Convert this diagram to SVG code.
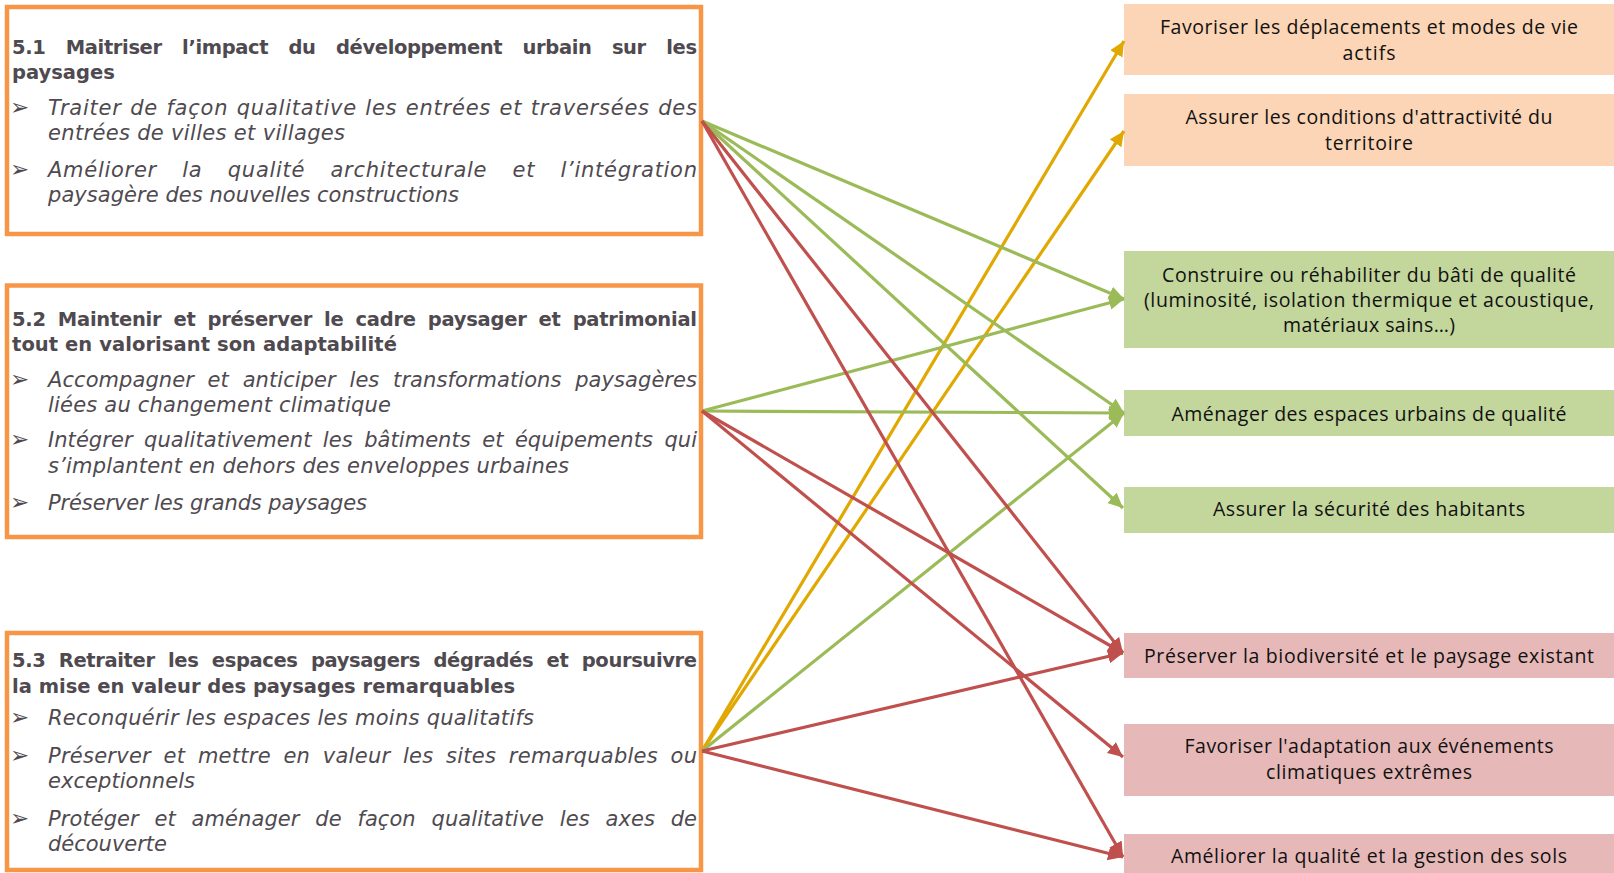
<svg xmlns="http://www.w3.org/2000/svg" width="1614" height="873" viewBox="0 0 1614 873">
<style>
.box{fill:#ffffff;stroke:#F79646;stroke-width:4.5}
.t{font-family:"DejaVu Sans","Liberation Sans",sans-serif;fill:#4F4A50}
.h{font-size:19.5px;font-weight:bold}
.b{font-size:21px;font-style:italic}
.bul{font-family:"DejaVu Sans",sans-serif;font-size:23px;fill:#4F4A50}
.r{font-family:"Open Sans","Liberation Sans",sans-serif;font-size:19.5px;fill:#111111;text-anchor:middle}
.peach{fill:#FBD5B5}
.green{fill:#C3D69B}
.pink{fill:#E6B9B8}
.c{fill:none;stroke-width:3.2}
.cy{stroke:#E0A800}
.cg{stroke:#9BBB59}
.cr{stroke:#C0504D}
</style>
<defs>
<marker id="ay" markerUnits="userSpaceOnUse" markerWidth="16" markerHeight="16" refX="15" refY="7" orient="auto"><path d="M0,0 L15,7 L0,14 z" fill="#E0A800"/></marker>
<marker id="ag" markerUnits="userSpaceOnUse" markerWidth="16" markerHeight="16" refX="15" refY="7" orient="auto"><path d="M0,0 L15,7 L0,14 z" fill="#9BBB59"/></marker>
<marker id="ar" markerUnits="userSpaceOnUse" markerWidth="16" markerHeight="16" refX="15" refY="7" orient="auto"><path d="M0,0 L15,7 L0,14 z" fill="#C0504D"/></marker>
</defs>
<rect width="1614" height="873" fill="#ffffff"/>

<g id="obj51">
<rect class="box" x="7" y="7" width="694" height="227"/>
<text class="t h" x="12" y="54" word-spacing="14" textLength="685" lengthAdjust="spacing">5.1 Maitriser l’impact du développement urbain sur les</text>
<text class="t h" x="12" y="79">paysages</text>
<text class="bul" x="10" y="115">➢</text>
<text class="t b" x="48" y="115" word-spacing="1" textLength="649" lengthAdjust="spacing">Traiter de façon qualitative les entrées et traversées des</text>
<text class="t b" x="48" y="140" textLength="297" lengthAdjust="spacing">entrées de villes et villages</text>
<text class="bul" x="10" y="177">➢</text>
<text class="t b" x="48" y="177" word-spacing="18" textLength="649" lengthAdjust="spacing">Améliorer la qualité architecturale et l’intégration</text>
<text class="t b" x="48" y="202" textLength="411" lengthAdjust="spacing">paysagère des nouvelles constructions</text>
</g>

<g id="obj52">
<rect class="box" x="7" y="285.5" width="694" height="251.5"/>
<text class="t h" x="12" y="326" word-spacing="5.5" textLength="685" lengthAdjust="spacing">5.2 Maintenir et préserver le cadre paysager et patrimonial</text>
<text class="t h" x="12" y="351" textLength="385" lengthAdjust="spacing">tout en valorisant son adaptabilité</text>
<text class="bul" x="10" y="387">➢</text>
<text class="t b" x="48" y="387" word-spacing="7" textLength="649" lengthAdjust="spacing">Accompagner et anticiper les transformations paysagères</text>
<text class="t b" x="48" y="412" textLength="343" lengthAdjust="spacing">liées au changement climatique</text>
<text class="bul" x="10" y="447">➢</text>
<text class="t b" x="48" y="447" word-spacing="4.7" textLength="649" lengthAdjust="spacing">Intégrer qualitativement les bâtiments et équipements qui</text>
<text class="t b" x="48" y="473" textLength="521" lengthAdjust="spacing">s’implantent en dehors des enveloppes urbaines</text>
<text class="bul" x="10" y="510">➢</text>
<text class="t b" x="48" y="510" textLength="319" lengthAdjust="spacing">Préserver les grands paysages</text>
</g>

<g id="obj53">
<rect class="box" x="7" y="633" width="694" height="237"/>
<text class="t h" x="12" y="667" word-spacing="7" textLength="685" lengthAdjust="spacing">5.3 Retraiter les espaces paysagers dégradés et poursuivre</text>
<text class="t h" x="12" y="693" textLength="503" lengthAdjust="spacing">la mise en valeur des paysages remarquables</text>
<text class="bul" x="10" y="725">➢</text>
<text class="t b" x="48" y="725" textLength="486" lengthAdjust="spacing">Reconquérir les espaces les moins qualitatifs</text>
<text class="bul" x="10" y="763">➢</text>
<text class="t b" x="48" y="763" word-spacing="5.7" textLength="649" lengthAdjust="spacing">Préserver et mettre en valeur les sites remarquables ou</text>
<text class="t b" x="48" y="788" textLength="147" lengthAdjust="spacing">exceptionnels</text>
<text class="bul" x="10" y="826">➢</text>
<text class="t b" x="48" y="826" word-spacing="9" textLength="649" lengthAdjust="spacing">Protéger et aménager de façon qualitative les axes de</text>
<text class="t b" x="48" y="851" textLength="119" lengthAdjust="spacing">découverte</text>
</g>

<g id="deplacements">
<rect class="peach" x="1124" y="4" width="490" height="71"/>
<text class="r" x="1369" y="34" textLength="418" lengthAdjust="spacing">Favoriser les déplacements et modes de vie</text>
<text class="r" x="1369" y="60" textLength="53" lengthAdjust="spacing">actifs</text>
</g>
<g id="attractivite">
<rect class="peach" x="1124" y="94" width="490" height="72"/>
<text class="r" x="1369" y="124" textLength="367" lengthAdjust="spacing">Assurer les conditions d'attractivité du</text>
<text class="r" x="1369" y="150" textLength="88" lengthAdjust="spacing">territoire</text>
</g>
<g id="bati">
<rect class="green" x="1124" y="251" width="490" height="97"/>
<text class="r" x="1369" y="282" textLength="414" lengthAdjust="spacing">Construire ou réhabiliter du bâti de qualité</text>
<text class="r" x="1369" y="307" textLength="450" lengthAdjust="spacing">(luminosité, isolation thermique et acoustique,</text>
<text class="r" x="1369" y="332" textLength="172" lengthAdjust="spacing">matériaux sains…)</text>
</g>
<g id="espaces">
<rect class="green" x="1124" y="390" width="490" height="46"/>
<text class="r" x="1369" y="421" textLength="395" lengthAdjust="spacing">Aménager des espaces urbains de qualité</text>
</g>
<g id="securite">
<rect class="green" x="1124" y="487" width="490" height="46"/>
<text class="r" x="1369" y="516" textLength="312" lengthAdjust="spacing">Assurer la sécurité des habitants</text>
</g>
<g id="biodiversite">
<rect class="pink" x="1124" y="633" width="490" height="45"/>
<text class="r" x="1369" y="663" textLength="450" lengthAdjust="spacing">Préserver la biodiversité et le paysage existant</text>
</g>
<g id="adaptation">
<rect class="pink" x="1124" y="724" width="490" height="72"/>
<text class="r" x="1369" y="753" textLength="369" lengthAdjust="spacing">Favoriser l'adaptation aux événements</text>
<text class="r" x="1369" y="779" textLength="206" lengthAdjust="spacing">climatiques extrêmes</text>
</g>
<g id="sols">
<rect class="pink" x="1124" y="834" width="490" height="39"/>
<text class="r" x="1369" y="863" textLength="396" lengthAdjust="spacing">Améliorer la qualité et la gestion des sols</text>
</g>

<g id="connectors">
<line class="c cy" x1="702" y1="751" x2="1124" y2="41" marker-end="url(#ay)"/>
<line class="c cy" x1="702" y1="751" x2="1124" y2="131" marker-end="url(#ay)"/>
<line class="c cg" x1="702" y1="121" x2="1124" y2="299" marker-end="url(#ag)"/>
<line class="c cg" x1="702" y1="121" x2="1124" y2="413" marker-end="url(#ag)"/>
<line class="c cg" x1="702" y1="121" x2="1123" y2="508" marker-end="url(#ag)"/>
<line class="c cg" x1="702" y1="411" x2="1124" y2="299" marker-end="url(#ag)"/>
<line class="c cg" x1="702" y1="411" x2="1124" y2="413" marker-end="url(#ag)"/>
<line class="c cg" x1="702" y1="751" x2="1124" y2="413" marker-end="url(#ag)"/>
<line class="c cr" x1="702" y1="121" x2="1123" y2="653" marker-end="url(#ar)"/>
<line class="c cr" x1="702" y1="121" x2="1123" y2="857" marker-end="url(#ar)"/>
<line class="c cr" x1="702" y1="411" x2="1123" y2="653" marker-end="url(#ar)"/>
<line class="c cr" x1="702" y1="411" x2="1123" y2="757" marker-end="url(#ar)"/>
<line class="c cr" x1="702" y1="751" x2="1123" y2="653" marker-end="url(#ar)"/>
<line class="c cr" x1="702" y1="751" x2="1123" y2="857" marker-end="url(#ar)"/>
</g>
</svg>
